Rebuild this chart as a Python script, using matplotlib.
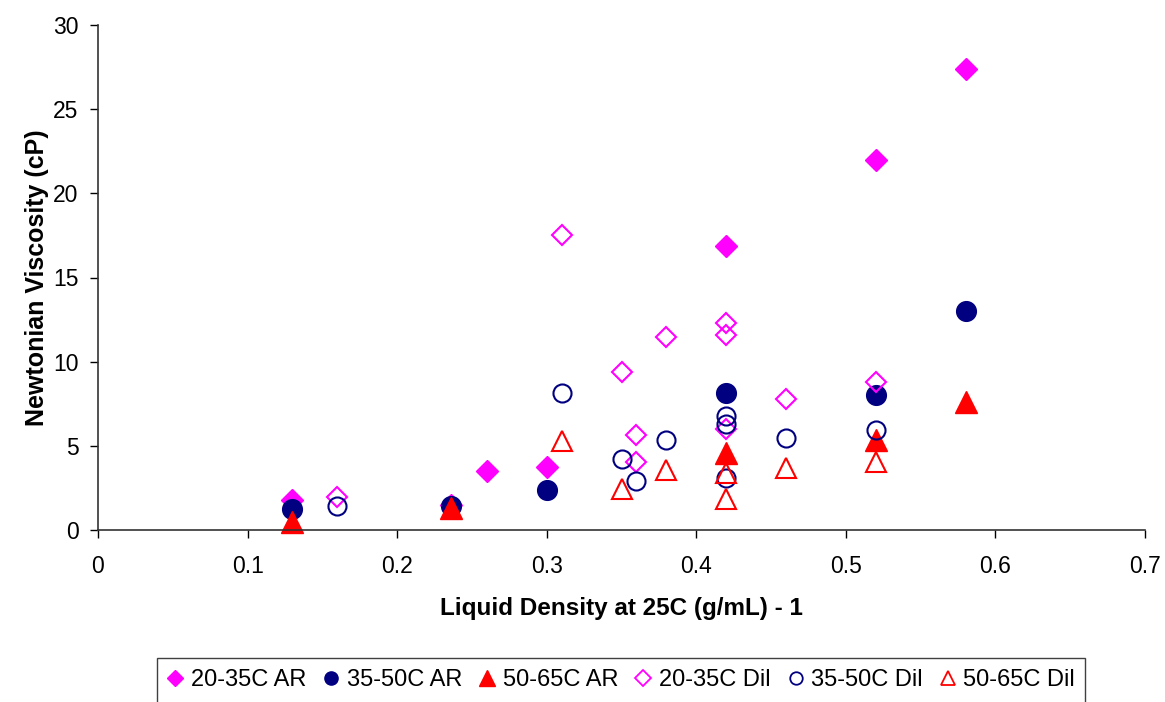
import matplotlib
matplotlib.use("Agg")
import matplotlib.pyplot as plt
from matplotlib.lines import Line2D
from matplotlib.patches import Rectangle

plt.rcParams['font.family'] = ['Liberation Sans', 'DejaVu Sans']

# Data
ar2035_x = [0.13, 0.236, 0.26, 0.30, 0.42, 0.52, 0.58]
ar2035_y = [1.8, 1.5, 3.5, 3.75, 16.9, 22.0, 27.4]
ar3550_x = [0.13, 0.236, 0.30, 0.42, 0.52, 0.58]
ar3550_y = [1.23, 1.43, 2.35, 8.16, 8.02, 13.03]
ar5065_x = [0.13, 0.236, 0.42, 0.52, 0.58]
ar5065_y = [0.45, 1.3, 4.6, 5.33, 7.62]
dil2035_x = [0.16, 0.31, 0.35, 0.36, 0.36, 0.38, 0.42, 0.42, 0.42, 0.46, 0.52]
dil2035_y = [1.98, 17.5, 9.37, 5.64, 4.06, 11.45, 12.28, 11.59, 5.98, 7.76, 8.81]
dil3550_x = [0.16, 0.31, 0.35, 0.36, 0.38, 0.42, 0.42, 0.42, 0.46, 0.52]
dil3550_y = [1.45, 8.16, 4.22, 2.93, 5.37, 6.77, 6.30, 3.07, 5.49, 5.94]
dil5065_x = [0.31, 0.35, 0.38, 0.42, 0.42, 0.46, 0.52]
dil5065_y = [5.3, 2.42, 3.58, 3.37, 1.82, 3.68, 4.02]

labels = ["20-35C AR", "35-50C AR", "50-65C AR", "20-35C Dil", "35-50C Dil", "50-65C Dil"]
x_ticks = [0, 0.1, 0.2, 0.3, 0.4, 0.5, 0.6, 0.7]
x_ticklabels = ["0", "0.1", "0.2", "0.3", "0.4", "0.5", "0.6", "0.7"]
y_ticks = [0, 5, 10, 15, 20, 25, 30]

magenta = '#FF00FF'
navy = '#000080'
red = '#FF0000'

W, H = 1165, 702
fig = plt.figure(figsize=(W/100, H/100), dpi=100)
ax = fig.add_axes([98/W, 1 - 530/H, (1145-98)/W, (530-25)/H])

ax.plot(ar2035_x, ar2035_y, linestyle='none', marker='D', ms=11, color=magenta, mec=magenta, clip_on=False)
ax.plot(ar3550_x, ar3550_y, linestyle='none', marker='o', ms=14.2, color=navy, mec=navy, clip_on=False)
ax.plot(ar5065_x, ar5065_y, linestyle='none', marker='^', ms=15.5, color=red, mec=red, clip_on=False)
ax.plot(dil2035_x, dil2035_y, linestyle='none', marker='D', ms=10, mfc='none', mec=magenta, mew=1.5, clip_on=False)
ax.plot(dil3550_x, dil3550_y, linestyle='none', marker='o', ms=13, mfc='none', mec=navy, mew=1.5, clip_on=False)
ax.plot(dil5065_x, dil5065_y, linestyle='none', marker='^', ms=14.5, mfc='none', mec=red, mew=1.5, clip_on=False)

ax.set_xlim(0, 0.7)
ax.set_ylim(0, 30)
ax.set_xticks(x_ticks)
ax.set_xticklabels(x_ticklabels)
ax.set_yticks(y_ticks)
ax.tick_params(axis='both', direction='out', length=6, width=1, labelsize=16.5, colors='black')
ax.tick_params(axis='x', pad=12)
ax.tick_params(axis='y', pad=8)
ax.spines['top'].set_visible(False)
ax.spines['right'].set_visible(False)
for s in ['left', 'bottom']:
    ax.spines[s].set_color('#333333')
    ax.spines[s].set_linewidth(1.2)

ax.set_xlabel('Liquid Density at 25C (g/mL) - 1', fontsize=17.5, fontweight='bold', labelpad=14)
ax.set_ylabel('Newtonian Viscosity (cP)', fontsize=18, fontweight='bold', labelpad=3)

handles = [
    Line2D([], [], linestyle='none', marker='D', ms=8.5, color=magenta, mec=magenta),
    Line2D([], [], linestyle='none', marker='o', ms=9.5, color=navy, mec=navy),
    Line2D([], [], linestyle='none', marker='^', ms=11, color=red, mec=red),
    Line2D([], [], linestyle='none', marker='D', ms=8, mfc='none', mec=magenta, mew=1.3),
    Line2D([], [], linestyle='none', marker='o', ms=9, mfc='none', mec=navy, mew=1.3),
    Line2D([], [], linestyle='none', marker='^', ms=10.5, mfc='none', mec=red, mew=1.3),
]
leg = fig.legend(handles=handles, labels=labels, loc='center', bbox_to_anchor=(621/W, 1 - 680/H),
                 ncol=6, fontsize=17, frameon=False,
                 handlelength=0.7, handletextpad=0.3, columnspacing=0.72,
                 borderpad=0.45, borderaxespad=0)

# Legend box (bottom edge runs off the canvas as in the reference)
fig.patches.append(Rectangle((157/W, 1 - 720/H), (1085-157)/W, (720-658)/H,
                             transform=fig.transFigure, fill=False,
                             edgecolor='#404040', linewidth=1.0))

fig.savefig('out.png', dpi=100)
